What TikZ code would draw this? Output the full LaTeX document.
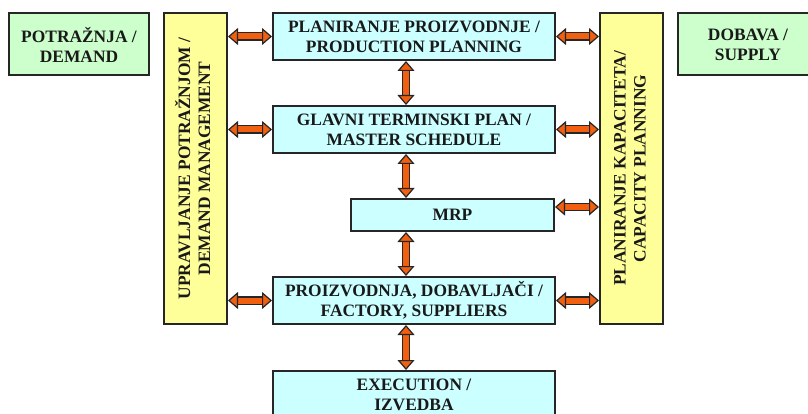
\documentclass[tikz,border=0pt]{standalone}
\usepackage{fontspec}
\setmainfont{Liberation Serif}
\usepackage{graphicx}
\usepackage{xcolor}
\usepackage{tikz}
\usetikzlibrary{positioning, arrows.meta, shapes}

\definecolor{flowgreen}{HTML}{CCFFCC}
\definecolor{flowcyan}{HTML}{CCFFFF}
\definecolor{flowyellow}{HTML}{FFFF99}
\definecolor{flowarrow}{HTML}{F06010}

\tikzset{
  box/.style={draw=black!85, line width=2pt, align=center, inner sep=2pt,
    font=\fontsize{17.4}{20}\selectfont\bfseries, text=black!90},
  outerbox/.style={box, fill=flowgreen, minimum width=140pt, minimum height=62pt},
  stagebox/.style={box, fill=flowcyan, minimum width=282pt, minimum height=47pt},
  sidebar/.style={box, fill=flowyellow, minimum width=63pt, minimum height=311pt},
  link/.style={line width=6pt, draw=flowarrow,
    {Triangle[width=17pt,length=10pt,fill=flowarrow,color=black!85,line width=1.2pt]}-{Triangle[width=17pt,length=10pt,fill=flowarrow,color=black!85,line width=1.2pt]},
    preaction={draw=black!85, line width=8.4pt, -, shorten >=9pt, shorten <=9pt}}
}

\begin{document}
\begin{tikzpicture}[x=1pt, y=-1pt]
    \useasboundingbox (0,0) rectangle (808,414);
    \clip (0,0) rectangle (808,414);

    % outside world
    \node[outerbox] (demand) at (79,44.5) {POTRAŽNJA /\\DEMAND};
    \node[outerbox] (supply) at (748,44.5) {DOBAVA /\\SUPPLY};

    % side bars
    \node[sidebar] (demandmgmt) at (195.5,168.5)
        {\rotatebox{90}{\begin{tabular}{@{}c@{}}UPRAVLJANJE POTRAŽNJOM /\\DEMAND MANAGEMENT\end{tabular}}};
    \node[sidebar] (capacity) at (631.5,168.5)
        {\rotatebox{90}{\begin{tabular}{@{}c@{}}PLANIRANJE KAPACITETA/\\CAPACITY PLANNING\end{tabular}}};

    % planning stages
    \node[stagebox] (prod) at (414,36.5) {PLANIRANJE PROIZVODNJE /\\PRODUCTION PLANNING};
    \node[stagebox] (master) at (414,129.5) {GLAVNI TERMINSKI PLAN /\\MASTER SCHEDULE};
    \node[stagebox, minimum width=203pt, minimum height=32pt] (mrp) at (452.5,215) {MRP};
    \node[stagebox] (factory) at (414,300.5) {PROIZVODNJA, DOBAVLJAČI /\\FACTORY, SUPPLIERS};
    \node[stagebox] (execution) at (414,394.5) {EXECUTION /\\IZVEDBA};

    % vertical links
    \coordinate (spine) at (406,0);
    \draw[link] (prod.south -| spine) -- (master.north -| spine);
    \draw[link] (master.south -| spine) -- (mrp.north -| spine);
    \draw[link] (mrp.south -| spine) -- (factory.north -| spine);
    \draw[link] (factory.south -| spine) -- (execution.north -| spine);

    % links to side bars
    \foreach \n in {prod, master, factory} {
        \draw[link] (demandmgmt.east |- \n.west) -- (\n.west);
        \draw[link] (\n.east) -- (capacity.west |- \n.east);
    }
    \draw[link] ([yshift=8pt]mrp.east) -- ([yshift=8pt]mrp.east -| capacity.west);
\end{tikzpicture}
\end{document}
